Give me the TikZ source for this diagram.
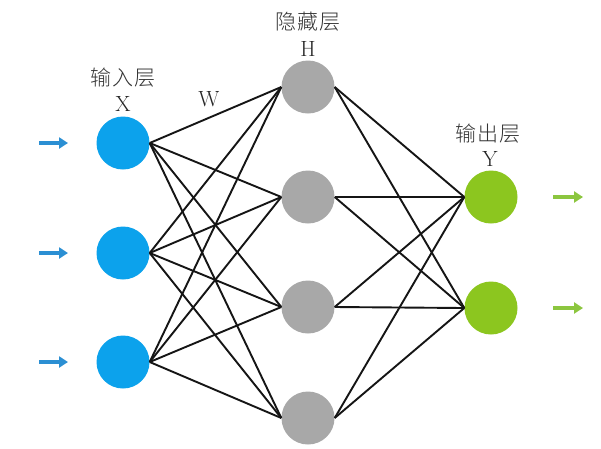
\documentclass[tikz,border=0pt]{standalone}
\usepackage{fontspec}
\newfontfamily\cjk{Noto Sans CJK SC Light}
\usetikzlibrary{arrows.meta}
\definecolor{inblue}{HTML}{0CA2EC}
\definecolor{arrblue}{HTML}{2B8FD3}
\definecolor{hidgray}{HTML}{A8A8A8}
\definecolor{outgreen}{HTML}{8CC61F}
\definecolor{arrgreen}{HTML}{8CC63F}
\definecolor{edgecol}{HTML}{151515}
\tikzset{
  neuron/.style={circle, minimum size=53pt, inner sep=0pt, draw=none},
  innode/.style={neuron, fill=inblue},
  hidnode/.style={neuron, fill=hidgray},
  outnode/.style={neuron, fill=outgreen},
  link/.style={draw=edgecol, line width=1.9pt},
  feed/.style={line width=3.5pt, -{Triangle[length=9pt,width=11pt]}},
  lbl/.style={font=\fontsize{22}{24}\selectfont, text=black!85, inner sep=0pt},
  cjklbl/.style={font=\cjk\fontsize{21}{24}\selectfont\addfontfeature{LetterSpace=4}, text=black!80, inner sep=0pt}
}
\begin{document}
\begin{tikzpicture}[x=1pt, y=-1pt]
\useasboundingbox (0,0) rectangle (601,448);
\fill[white] (0,0) rectangle (601,448);

% input layer
\node[innode] (x1) at (123,143) {};
\node[innode] (x2) at (123,253) {};
\node[innode] (x3) at (123,362) {};
% hidden layer
\node[hidnode] (h1) at (308,87) {};
\node[hidnode] (h2) at (308,197) {};
\node[hidnode] (h3) at (308,307) {};
\node[hidnode] (h4) at (308,418) {};
% output layer
\node[outnode] (y1) at (491,197) {};
\node[outnode] (y2) at (491,308) {};

% weights input -> hidden
\foreach \i in {1,2,3}
  \foreach \j in {1,2,3,4}
    \draw[link] (x\i.east) -- (h\j.west);
% weights hidden -> output
\foreach \j in {1,2,3,4}
  \foreach \k in {1,2}
    \draw[link] (h\j.east) -- (y\k.west);

% input arrows
\coordinate (a1) at (39,143);
\coordinate (a2) at (39,253);
\coordinate (a3) at (39,362);
\coordinate (b1) at (68,143);
\coordinate (b2) at (68,253);
\coordinate (b3) at (68,362);
\foreach \i in {1,2,3}
  \draw[feed, arrblue] (a\i) -- (b\i);

% output arrows
\coordinate (c1) at (553,197);
\coordinate (c2) at (553,308);
\coordinate (d1) at (583,197);
\coordinate (d2) at (583,308);
\foreach \k in {1,2}
  \draw[feed, arrgreen] (c\k) -- (d\k);

% labels
\node[cjklbl] (tin) at (123,78) {输入层};
\node[lbl] (tx) at (123,104) {X};
\node[lbl] (tw) at (209,99) {W};
\node[cjklbl] (thid) at (308,22) {隐藏层};
\node[lbl] (th) at (308,49) {H};
\node[cjklbl] (tout) at (488,134) {输出层};
\node[lbl] (ty) at (490,159) {Y};
\end{tikzpicture}
\end{document}
